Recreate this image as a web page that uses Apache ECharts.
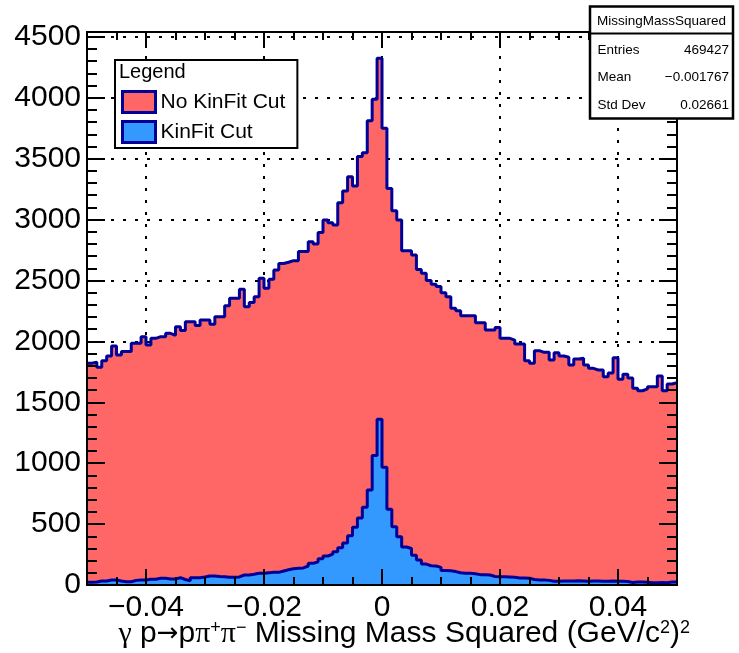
<!DOCTYPE html>
<html>
<head>
<meta charset="utf-8">
<title>Missing Mass Squared</title>
<script src="https://cdn.jsdelivr.net/npm/echarts@6/dist/echarts.min.js"></script>
<style>
  html, body { margin: 0; padding: 0; background: #fff; }
  #chart { width: 739px; height: 653px; }
</style>
</head>
<body>
<div id="chart"></div>
<script>
// histogram range, 120 bins from -0.05 to 0.05
const xMin = -0.05;
const xMax = 0.05;
const yMax = 4540;

// bin contents
const noKinFitCut = [
  1820, 1830, 1787, 1842, 1880, 1962, 1888, 1916, 1916, 1984,
  1984, 2039, 1970, 2025, 2039, 2039, 2066, 2050, 2121, 2090,
  2162, 2162, 2130, 2176, 2176, 2140, 2203, 2203, 2293, 2354,
  2354, 2428, 2285, 2320, 2367, 2518, 2436, 2510, 2586, 2640,
  2650, 2663, 2663, 2737, 2737, 2819, 2800, 2893, 2997, 2975,
  2956, 3139, 3235, 3352, 3276, 3517, 3549, 3812, 3988, 4324,
  3749, 3256, 3073, 2997, 2745, 2745, 2709, 2590, 2560, 2500,
  2470, 2450, 2400, 2367, 2272, 2252, 2211, 2211, 2211, 2154,
  2154, 2094, 2094, 2113, 2025, 2025, 2011, 1979, 1979, 1842,
  1820, 1924, 1910, 1910, 1847, 1907, 1880, 1870, 1806, 1855,
  1861, 1806, 1779, 1765, 1765, 1710, 1740, 1866, 1689, 1730,
  1700, 1615, 1595, 1610, 1628, 1628, 1716, 1595, 1650, 1660
];
const kinFitCut = [
  22, 25, 33, 33, 41, 41, 33, 27, 27, 38,
  41, 41, 47, 47, 55, 55, 50, 50, 60, 45,
  35, 60, 60, 65, 74, 74, 70, 68, 63, 63,
  66, 82, 82, 88, 96, 96, 100, 104, 104, 115,
  125, 134, 137, 140, 156, 178, 191, 215, 238, 254,
  274, 306, 345, 405, 474, 550, 638, 780, 1063, 1360,
  966, 621, 479, 397, 312, 300, 245, 205, 172, 158,
  156, 145, 120, 117, 110, 100, 96, 96, 92, 85,
  85, 82, 70, 68, 68, 66, 63, 57, 57, 55,
  45, 41, 41, 38, 30, 30, 32, 33, 33, 35,
  33, 30, 33, 33, 30, 30, 32, 30, 30, 28,
  20, 25, 25, 22, 19, 19, 20, 19, 25, 25
];

const xTicks = [-0.04, -0.02, 0, 0.02, 0.04];

// stats box text
const statsTitle = 'MissingMassSquared';
const statsRows = [
  ['Entries', '469427'],
  ['Mean', '\u22120.001767'],
  ['Std Dev', '0.02661']
];

const FONT = '"Liberation Sans", Arial, Helvetica, sans-serif';
const SERIF = '"Liberation Serif", "DejaVu Serif", serif';
const RED = '#FF6666';
const BLUE = '#3399FF';
const LINE = '#000099';

// turn bin contents into [lowEdge, value] points for a step line
const toSteps = (values) => {
  const w = (xMax - xMin) / values.length;
  const pts = values.map((v, i) => [xMin + i * w, v]);
  pts.push([xMax, values[values.length - 1]]);
  return pts;
};

const fmtX = (v) => {
  if (Math.abs(v) < 1e-9) return '0';
  return (v < 0 ? '\u2212' : '') + Math.abs(v).toFixed(2);
};

const dotted = { color: '#000', width: 2, type: [3, 9] };

// x axis builder: every axis shares the same range
const xAxisOf = (extra) => Object.assign({
  type: 'value',
  min: xMin,
  max: xMax,
  axisLine: { show: true, onZero: false, lineStyle: { color: '#000', width: 2 } },
  axisLabel: { show: false },
  axisTick: { show: false },
  splitLine: { show: false }
}, extra);

const yAxisOf = (extra) => Object.assign({
  type: 'value',
  min: 0,
  max: yMax,
  axisLine: { show: true, onZero: false, lineStyle: { color: '#000', width: 2 } },
  axisLabel: { show: false },
  axisTick: { show: false },
  splitLine: { show: false }
}, extra);

const chart = echarts.init(document.getElementById('chart'), null, { renderer: 'canvas' });

const option = {
  animation: false,
  backgroundColor: '#fff',
  grid: { left: 87, right: 62, top: 32, bottom: 68, outerBoundsMode: 'none' },
  xAxis: [
    // bottom, small ticks every 0.005
    xAxisOf({
      position: 'bottom', interval: 0.005, z: 10,
      axisTick: { show: true, inside: true, length: 8, lineStyle: { color: '#000', width: 2 } }
    }),
    // bottom, big ticks and labels
    xAxisOf({
      position: 'bottom', z: 10,
      axisLine: { show: false, onZero: false },
      axisTick: { show: true, inside: true, length: 16, customValues: xTicks, lineStyle: { color: '#000', width: 2 } },
      axisLabel: {
        show: true, customValues: xTicks, formatter: fmtX, margin: 8,
        color: '#000', fontSize: 30, fontFamily: FONT
      }
    }),
    // top mirror ticks
    xAxisOf({
      position: 'top', interval: 0.005, z: 10,
      axisTick: { show: true, inside: true, length: 8, lineStyle: { color: '#000', width: 2 } }
    }),
    // top big ticks + vertical grid (kept under the histograms)
    xAxisOf({
      position: 'top', z: 0,
      axisLine: { show: false, onZero: false },
      axisTick: { show: true, inside: true, length: 16, customValues: xTicks, lineStyle: { color: '#000', width: 2 } },
      splitLine: { show: true, lineStyle: dotted }
    })
  ],
  yAxis: [
    yAxisOf({
      position: 'left', interval: 500, z: 10,
      axisTick: { show: true, inside: true, length: 18, lineStyle: { color: '#000', width: 2 } },
      axisLabel: {
        show: true, showMaxLabel: false, margin: 6,
        formatter: (v) => String(v),
        color: '#000', fontSize: 30, fontFamily: FONT
      }
    }),
    yAxisOf({
      position: 'left', interval: 100, z: 10,
      axisTick: { show: true, inside: true, length: 10, lineStyle: { color: '#000', width: 2 } }
    }),
    yAxisOf({
      position: 'right', interval: 500, z: 10,
      axisTick: { show: true, inside: true, length: 18, lineStyle: { color: '#000', width: 2 } }
    }),
    yAxisOf({
      position: 'right', interval: 100, z: 10,
      axisTick: { show: true, inside: true, length: 10, lineStyle: { color: '#000', width: 2 } }
    }),
    // horizontal grid only
    yAxisOf({
      position: 'left', interval: 500, z: 0,
      axisLine: { show: false, onZero: false },
      splitLine: { show: true, lineStyle: dotted }
    })
  ],
  legend: {
    left: 115,
    top: 60,
    orient: 'vertical',
    padding: [30, 12, 4, 6],
    itemGap: 6,
    itemWidth: 33,
    itemHeight: 21,
    backgroundColor: '#fff',
    borderColor: '#000',
    borderWidth: 2,
    textStyle: { color: '#000', fontSize: 21, fontFamily: FONT, lineHeight: 21 },
    data: [
      { name: 'No KinFit Cut', icon: 'rect', itemStyle: { color: RED, borderColor: LINE, borderWidth: 3 } },
      { name: 'KinFit Cut', icon: 'rect', itemStyle: { color: BLUE, borderColor: LINE, borderWidth: 3 } }
    ]
  },
  graphic: [
    // x axis title, right aligned to the frame like ROOT does
    {
      type: 'text', x: 690, y: 634, z: 100,
      style: {
        text: '{g|\u03b3} p{a|\u2192}p{g|\u03c0}{s|+}{g|\u03c0}{s|\u2212} Missing Mass Squared (GeV/c{s|2}){s|2}',
        fontSize: 30, fontFamily: FONT, fill: '#000',
        align: 'right', verticalAlign: 'middle',
        rich: {
          g: { fontFamily: SERIF, fontSize: 30, fill: '#000' },
          a: { fontFamily: '"DejaVu Sans", sans-serif', fontSize: 26, fill: '#000' },
          s: { fontSize: 18, verticalAlign: 'top', fill: '#000', fontFamily: FONT }
        }
      }
    },
    {
      type: 'text', x: 119, y: 72, z: 100,
      style: { text: 'Legend', fontSize: 20, fontFamily: FONT, fill: '#000', verticalAlign: 'middle' }
    },
    {
      type: 'rect', z: 100,
      shape: { x: 590, y: 6.5, width: 143, height: 112 },
      style: { fill: '#fff', stroke: '#000', lineWidth: 2.5 }
    },
    {
      type: 'line', z: 101,
      shape: { x1: 590, y1: 33.5, x2: 733, y2: 33.5 },
      style: { stroke: '#000', lineWidth: 2 }
    },
    {
      type: 'text', x: 661.5, y: 21, z: 101,
      style: { text: statsTitle, fontSize: 13.5, fontFamily: FONT, fill: '#000', align: 'center', verticalAlign: 'middle' }
    }
  ].concat(statsRows.flatMap((row, i) => [
    {
      type: 'text', x: 597.5, y: 50 + i * 27.5, z: 101,
      style: { text: row[0], fontSize: 13.5, fontFamily: FONT, fill: '#000', verticalAlign: 'middle' }
    },
    {
      type: 'text', x: 729, y: 50 + i * 27.5, z: 101,
      style: { text: row[1], fontSize: 13.5, fontFamily: FONT, fill: '#000', align: 'right', verticalAlign: 'middle' }
    }
  ])),
  series: [
    {
      name: 'No KinFit Cut',
      type: 'line',
      step: 'end',
      symbol: 'none',
      data: toSteps(noKinFitCut),
      itemStyle: { color: RED },
      lineStyle: { color: LINE, width: 3 },
      areaStyle: { color: RED, opacity: 1 },
      z: 2
    },
    {
      name: 'KinFit Cut',
      type: 'line',
      step: 'end',
      symbol: 'none',
      data: toSteps(kinFitCut),
      itemStyle: { color: BLUE },
      lineStyle: { color: LINE, width: 3 },
      areaStyle: { color: BLUE, opacity: 1 },
      z: 3
    }
  ]
};

chart.setOption(option);
</script>
</body>
</html>
